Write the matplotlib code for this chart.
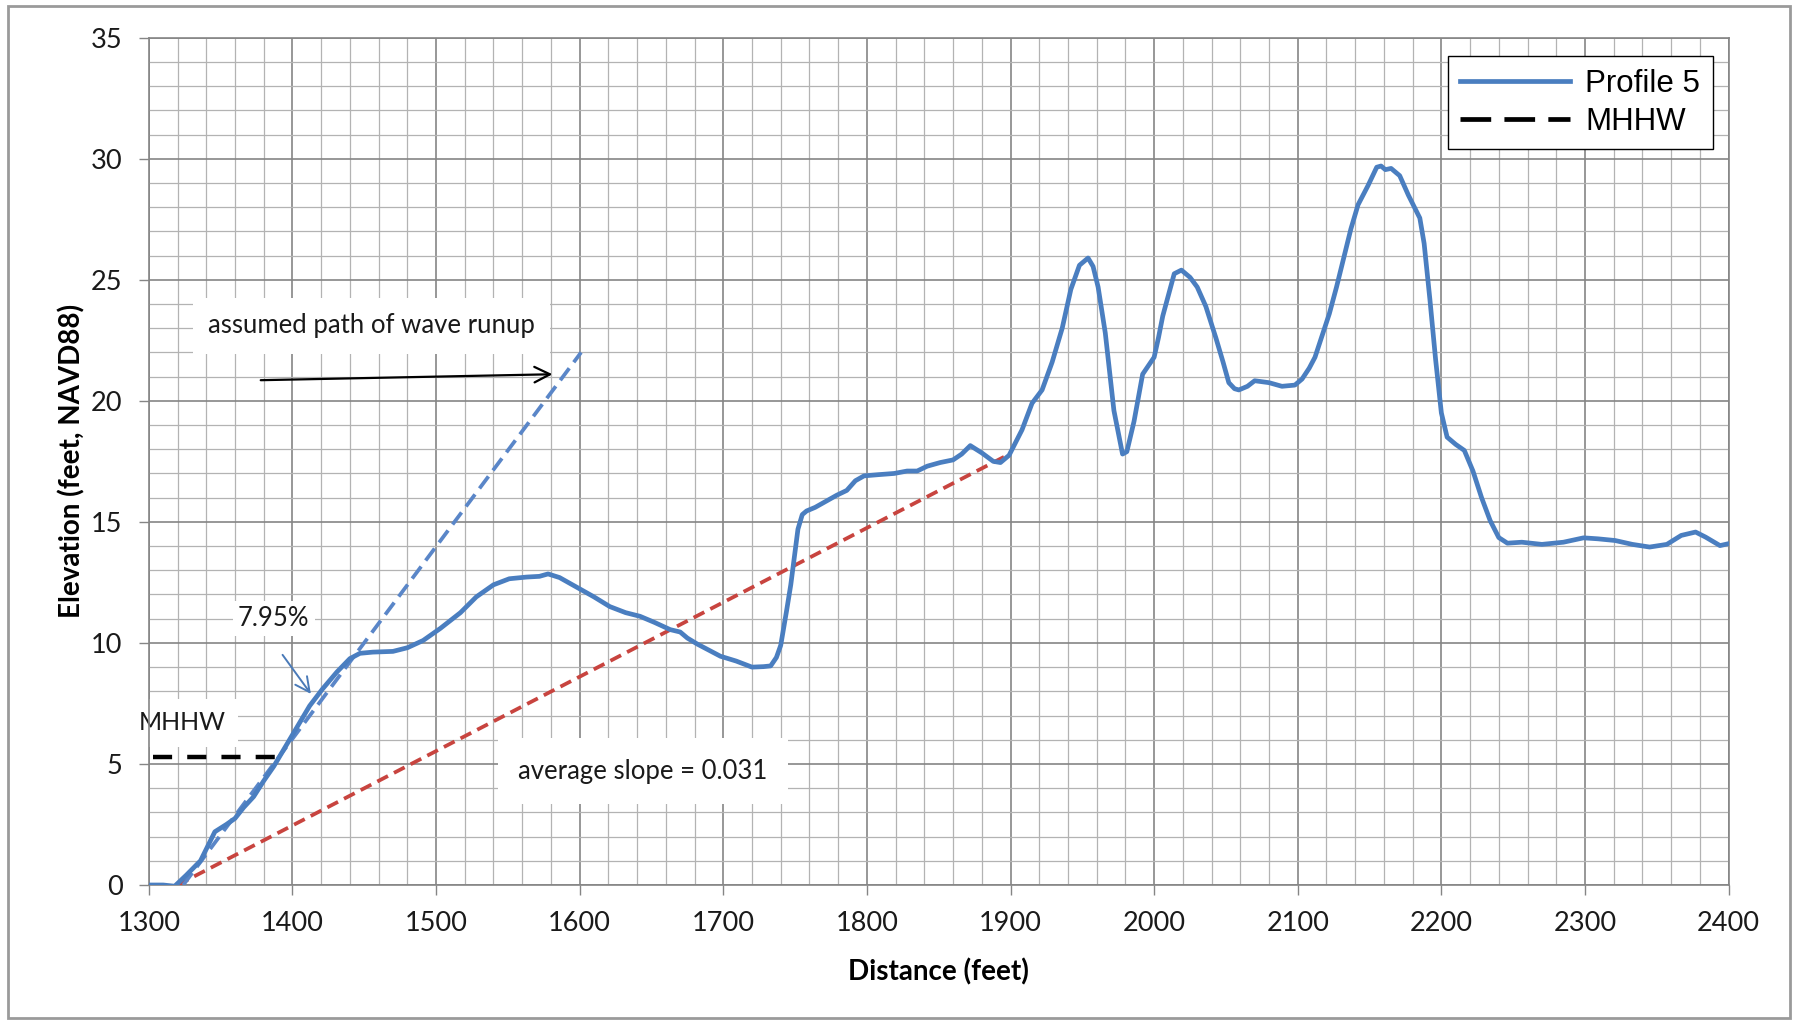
import matplotlib
matplotlib.use("Agg")
import matplotlib.pyplot as plt
from matplotlib.ticker import MultipleLocator
from matplotlib.lines import Line2D
from matplotlib.patches import Rectangle

# ---------------- data ----------------
dist = [1300, 1310, 1318, 1326, 1336, 1341, 1346, 1354, 1360, 1366, 1373, 1380, 1387, 1394,
        1403, 1412, 1421, 1431, 1440, 1447, 1456, 1470, 1480, 1491, 1503, 1517, 1528, 1540,
        1551, 1563, 1572, 1578, 1586, 1598, 1610, 1621, 1632, 1642, 1652, 1663, 1670, 1675,
        1682, 1690, 1698, 1709, 1720, 1728, 1733, 1737, 1740, 1744, 1747, 1750, 1752, 1755,
        1758, 1764, 1770, 1779, 1786, 1792, 1798, 1808, 1819, 1828, 1835, 1842, 1851, 1860,
        1866, 1872, 1880, 1888, 1893, 1899, 1908, 1915, 1922, 1929, 1936, 1942, 1948, 1954,
        1957.5, 1961, 1966, 1972, 1978, 1981, 1986, 1992, 2000, 2003, 2006, 2011, 2014, 2019,
        2025, 2030, 2036, 2043, 2048, 2052, 2056, 2059, 2065, 2070, 2080, 2089, 2098, 2103,
        2108, 2112, 2117, 2122, 2127, 2132, 2137, 2142, 2149, 2155, 2158, 2161, 2165, 2171,
        2177, 2185, 2188, 2192, 2196, 2200, 2204, 2210, 2216, 2222, 2228, 2234, 2240, 2246,
        2256, 2270, 2285, 2299, 2309, 2321, 2333, 2345, 2357, 2367, 2377, 2384, 2394, 2400]
elev = [0.0, 0.0, -0.05, 0.4, 1.0, 1.6, 2.2, 2.5, 2.75, 3.2, 3.65, 4.3, 4.9, 5.6,
        6.5, 7.4, 8.1, 8.8, 9.35, 9.57, 9.62, 9.65, 9.8, 10.1, 10.6, 11.25, 11.9, 12.4,
        12.65, 12.72, 12.75, 12.85, 12.7, 12.3, 11.9, 11.5, 11.25, 11.1, 10.85, 10.55, 10.45, 10.2,
        9.95, 9.7, 9.45, 9.25, 9.0, 9.02, 9.05, 9.4, 9.9, 11.3, 12.4, 13.8, 14.7, 15.3,
        15.45, 15.6, 15.8, 16.1, 16.3, 16.7, 16.9, 16.95, 17.0, 17.1, 17.1, 17.3, 17.45, 17.56,
        17.8, 18.15, 17.85, 17.5, 17.45, 17.75, 18.8, 19.9, 20.45, 21.6, 23.0, 24.6, 25.6, 25.9,
        25.55, 24.7, 22.8, 19.6, 17.8, 17.9, 19.15, 21.1, 21.8, 22.6, 23.5, 24.6, 25.25, 25.4,
        25.1, 24.7, 23.9, 22.6, 21.6, 20.75, 20.5, 20.45, 20.6, 20.83, 20.75, 20.6, 20.65, 20.9,
        21.35, 21.8, 22.7, 23.6, 24.7, 25.9, 27.1, 28.1, 28.9, 29.65, 29.7, 29.55, 29.6, 29.3,
        28.5, 27.55, 26.5, 24.2, 21.7, 19.5, 18.5, 18.2, 17.95, 17.1, 16.0, 15.05, 14.35, 14.12,
        14.16, 14.07, 14.16, 14.34, 14.3, 14.23, 14.07, 13.96, 14.07, 14.44, 14.58, 14.37, 14.02, 14.1]

mhhw_x = [1303, 1388]
mhhw_y = [5.3, 5.3]

runup_x = [1324, 1601]
runup_y = [0.0, 22.0]

avg_x = [1320, 1896]
avg_y = [0.0, 17.7]

x_ticks = list(range(1300, 2401, 100))
y_ticks = list(range(0, 36, 5))

# ---------------- figure ----------------
W, H, DPI = 1795, 1021, 100
fig = plt.figure(figsize=(W / DPI, H / DPI), dpi=DPI)
fig.patch.set_facecolor("white")

left = 148.8 / W
right = 1728.6 / W
bottom = 1 - 885 / H
top = 1 - 37.7 / H
ax = fig.add_axes([left, bottom, right - left, top - bottom])

TXT = ["Lato", "DejaVu Sans"]

ax.set_xlim(1300, 2400)
ax.set_ylim(0, 35)
ax.set_xticks(x_ticks)
ax.set_yticks(y_ticks)
ax.xaxis.set_minor_locator(MultipleLocator(20))
ax.yaxis.set_minor_locator(MultipleLocator(1))
ax.set_axisbelow(True)
ax.grid(which="major", color="#858585", linewidth=1.2)
ax.grid(which="minor", color="#b3b3b3", linewidth=0.9)
ax.tick_params(which="major", direction="out", length=7, width=1.0, color="#858585",
               labelsize=19.5, pad=12)
ax.tick_params(which="minor", length=0)
for lab in ax.get_xticklabels() + ax.get_yticklabels():
    lab.set_family(TXT)
    lab.set_color("#1a1a1a")
for s in ax.spines.values():
    s.set_color("#858585")
    s.set_linewidth(1.2)

ax.set_xlabel("Distance (feet)", family=TXT, fontsize=20, fontweight="bold", labelpad=16)
ax.set_ylabel("Elevation (feet, NAVD88)", family=TXT, fontsize=20, fontweight="bold", labelpad=4)

blue = "#4a7ec0"
red = "#c8443f"

ax.plot(avg_x, avg_y, color=red, lw=2.7, dashes=(3.2, 1.8), zorder=3)
ax.plot(runup_x, runup_y, color="#5a86c8", lw=2.7, dashes=(4.0, 2.0), zorder=3)
ax.plot(dist, elev, color=blue, lw=3.4, zorder=4, solid_joinstyle="round")
ax.plot(mhhw_x, mhhw_y, color="black", lw=3.2, dashes=(4.3, 3.4), zorder=4)

box = dict(facecolor="white", edgecolor="none", boxstyle="square,pad=0.6")
ax.text(1455, 23.1, "assumed path of wave runup", family=TXT, fontsize=18.5,
        ha="center", va="center", color="#1a1a1a", bbox=box, zorder=2.5)
ax.text(1387, 11.0, "7.95%", family=TXT, fontsize=18.5, ha="center", va="center",
        color="#1a1a1a", bbox=dict(facecolor="white", edgecolor="none", boxstyle="square,pad=0.2"),
        zorder=2.5)
ax.text(1323, 6.7, "MHHW", family=TXT, fontsize=18, ha="center", va="center",
        color="#1a1a1a", bbox=dict(facecolor="white", edgecolor="none", boxstyle="square,pad=0.5"),
        zorder=2.5)
ax.text(1644, 4.7, "average slope = 0.031", family=TXT, fontsize=18.5, ha="center", va="center",
        color="#1a1a1a", bbox=dict(facecolor="white", edgecolor="none", boxstyle="square,pad=0.8"),
        zorder=2.5)

ax.annotate("", xy=(1583, 21.1), xytext=(1376, 20.85),
            arrowprops=dict(arrowstyle="->", color="black", lw=1.6, mutation_scale=28),
            zorder=5)
ax.annotate("", xy=(1414, 7.8), xytext=(1392, 9.6),
            arrowprops=dict(arrowstyle="->", color="#4a7ab8", lw=1.4, mutation_scale=26),
            zorder=5)

handles = [Line2D([], [], color=blue, lw=3.4),
           Line2D([], [], color="black", lw=3.4, dashes=(6.5, 2.8))]
leg = ax.legend(handles, ["Profile 5", "MHHW"], loc="upper right",
                bbox_to_anchor=(0.990, 0.978), borderaxespad=0,
                prop={"family": ["Liberation Sans", "DejaVu Sans"], "size": 22.5},
                frameon=True, fancybox=False, handlelength=3.5, handletextpad=0.5,
                labelspacing=0.25, borderpad=0.4)
leg.get_frame().set_edgecolor("black")
leg.get_frame().set_linewidth(1.0)
leg.get_frame().set_facecolor("white")
leg.get_frame().set_alpha(1)
leg.set_zorder(10)

fig.patches.append(Rectangle((8 / W, 1 - 1018 / H), (1790 - 8) / W, (1018 - 6) / H,
                             transform=fig.transFigure, fill=False,
                             edgecolor="#9a9a9a", linewidth=2.0))

fig.savefig("out.png", dpi=DPI)
